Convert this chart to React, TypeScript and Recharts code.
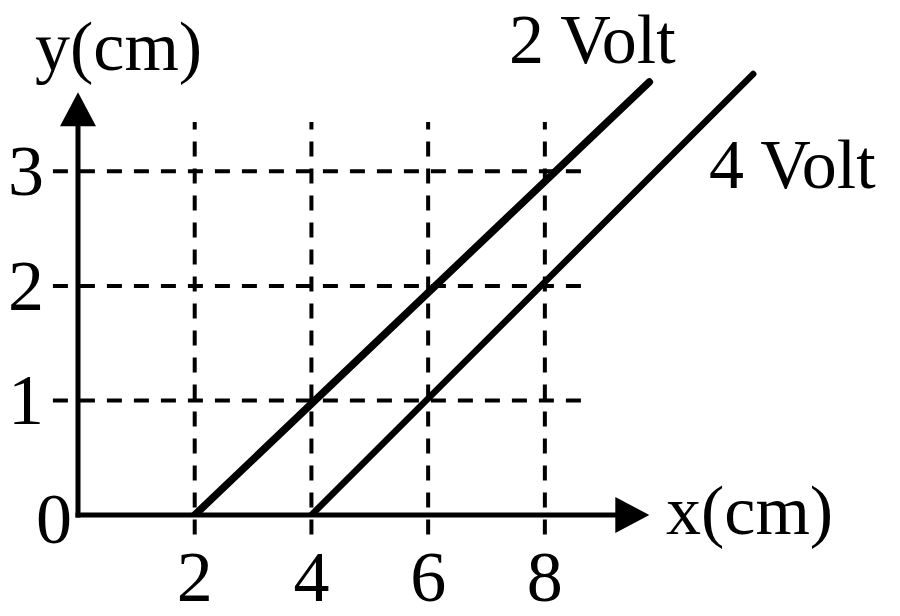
import React from 'react';
import { LineChart, Line, XAxis, YAxis, ReferenceLine } from 'recharts';

// 2 Volt and 4 Volt equipotential lines (x in cm, y in cm)
const volt2X = [2, 9.79];
const volt2Y = [0, 3.78];
const volt4X = [4, 11.57];
const volt4Y = [0, 3.85];

const xTicks = [2, 4, 6, 8];
const yTicks = [0, 1, 2, 3];

const X_DOMAIN: [number, number] = [0, 14];
const Y_DOMAIN: [number, number] = [0, 4.4];

// extents of the dashed guides and the arrowed axes
const GRID_X_RANGE = [-0.43, 8.64];
const GRID_Y_RANGE = [-0.17, 3.43];
const X_AXIS_END = 9.79;
const Y_AXIS_END = 3.69;

const FONT = '"Liberation Serif", "Times New Roman", serif';

const volt2Data = volt2X.map((x, i) => ({ x, y: volt2Y[i] }));
const volt4Data = volt4X.map((x, i) => ({ x, y: volt4Y[i] }));

// axis line with a filled arrow head at the far end
const ArrowShape = (props: any) => {
  const { x1, y1, x2, y2 } = props;
  const dx = x2 - x1;
  const dy = y2 - y1;
  const len = Math.hypot(dx, dy) || 1;
  const ux = dx / len;
  const uy = dy / len;
  const L = 34;
  const W = 18;
  const bx = x2 - ux * L;
  const by = y2 - uy * L;
  const px = -uy;
  const py = ux;
  return (
    <g>
      <line x1={x1} y1={y1} x2={bx} y2={by} stroke="#000" strokeWidth={5} strokeLinecap="square" />
      <polygon
        points={`${x2},${y2} ${bx + px * W},${by + py * W} ${bx - px * W},${by - py * W}`}
        fill="#000"
      />
    </g>
  );
};

const XTick = (props: any) => {
  const { x, y, payload } = props;
  return (
    <text x={x} y={y + 86} textAnchor="middle" fontSize={72} fontFamily={FONT} fill="#000">
      {payload.value}
    </text>
  );
};

const YTick = (props: any) => {
  const { x, y, payload } = props;
  if (payload.value === 0) {
    return (
      <text x={x - 6} y={y + 28} textAnchor="end" fontSize={72} fontFamily={FONT} fill="#000">
        0
      </text>
    );
  }
  return (
    <text x={x - 34} y={y + 24} textAnchor="end" fontSize={72} fontFamily={FONT} fill="#000">
      {payload.value}
    </text>
  );
};

export default function App() {
  return (
    <div style={{ position: 'absolute', left: 0, top: 0, background: '#fff' }}>
      <LineChart width={900} height={616} margin={{ top: 11, right: 5, left: 0, bottom: 0 }}>
        <XAxis
          type="number"
          dataKey="x"
          domain={X_DOMAIN}
          ticks={xTicks}
          axisLine={false}
          tickLine={false}
          tickSize={0}
          tickMargin={0}
          height={101}
          tick={<XTick />}
          allowDataOverflow
        />
        <YAxis
          type="number"
          dataKey="y"
          domain={Y_DOMAIN}
          ticks={yTicks}
          axisLine={false}
          tickLine={false}
          tickSize={0}
          tickMargin={0}
          width={78}
          tick={<YTick />}
          allowDataOverflow
        />

        {xTicks.map((t) => (
          <ReferenceLine
            key={`v${t}`}
            segment={[{ x: t, y: GRID_Y_RANGE[0] }, { x: t, y: GRID_Y_RANGE[1] }]}
            stroke="#000"
            strokeWidth={4}
            strokeDasharray="15 12"
            ifOverflow="visible"
          />
        ))}
        {yTicks.slice(1).map((t) => (
          <ReferenceLine
            key={`h${t}`}
            segment={[{ x: GRID_X_RANGE[0], y: t }, { x: GRID_X_RANGE[1], y: t }]}
            stroke="#000"
            strokeWidth={4}
            strokeDasharray="15 12"
            ifOverflow="visible"
          />
        ))}

        <ReferenceLine
          segment={[{ x: 0, y: 0 }, { x: X_AXIS_END, y: 0 }]}
          shape={ArrowShape}
          ifOverflow="visible"
        />
        <ReferenceLine
          segment={[{ x: 0, y: 0 }, { x: 0, y: Y_AXIS_END }]}
          shape={ArrowShape}
          ifOverflow="visible"
        />

        <Line
          data={volt2Data}
          dataKey="y"
          name="2 Volt"
          stroke="#000"
          strokeWidth={7.5}
          strokeLinecap="round"
          dot={false}
          isAnimationActive={false}
        />
        <Line
          data={volt4Data}
          dataKey="y"
          name="4 Volt"
          stroke="#000"
          strokeWidth={6.5}
          strokeLinecap="round"
          dot={false}
          isAnimationActive={false}
        />

        <text x={35} y={70} fontSize={70} fontFamily={FONT} fill="#000">y(cm)</text>
        <text x={666} y={534} fontSize={70} fontFamily={FONT} fill="#000">x(cm)</text>
        <text x={509} y={63} fontSize={70} fontFamily={FONT} fill="#000">2 Volt</text>
        <text x={709} y={188} fontSize={70} fontFamily={FONT} fill="#000">4 Volt</text>
      </LineChart>
    </div>
  );
}
